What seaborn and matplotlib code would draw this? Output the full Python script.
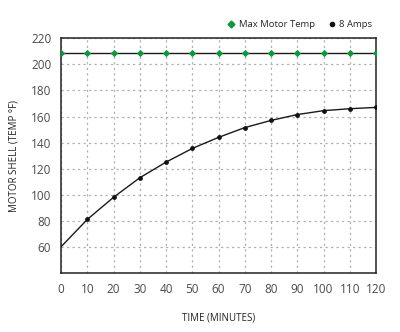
import matplotlib
matplotlib.use("Agg")
import matplotlib.pyplot as plt
from matplotlib.lines import Line2D
import seaborn as sns
import pandas as pd

# Motor shell temperature over time
minutes = [0, 10, 20, 30, 40, 50, 60, 70, 80, 90, 100, 110, 120]
amps8_temp = [60, 81, 98, 113, 125, 135.5, 144, 151.5, 157, 161.5, 164.5, 166, 167]
max_motor_temp = [209] * len(minutes)
x_ticks = [0, 10, 20, 30, 40, 50, 60, 70, 80, 90, 100, 110, 120]
y_ticks = [60, 80, 100, 120, 140, 160, 180, 200, 220]

sns.set_theme(style="white")
plt.rcParams["font.family"] = ["Open Sans", "DejaVu Sans"]

df8 = pd.DataFrame({"t": minutes, "temp": amps8_temp})
dfmax = pd.DataFrame({"t": minutes, "temp": max_motor_temp})

fig = plt.figure(figsize=(4.0, 3.32), dpi=100)
ax = fig.add_axes([0.1525, 0.178, 0.7875, 0.7065])

green = "#0a9a3c"
sns.lineplot(data=dfmax, x="t", y="temp", ax=ax, color="#1a1a1a", lw=1.0, zorder=3)
sns.scatterplot(data=dfmax, x="t", y="temp", ax=ax, color=green, marker="D",
                s=14, linewidth=0, zorder=4)
sns.lineplot(data=df8, x="t", y="temp", ax=ax, color="#1a1a1a", lw=1.0, zorder=3)
sns.scatterplot(data=df8.iloc[1:], x="t", y="temp", ax=ax, color="#111111",
                marker="o", s=12, linewidth=0, zorder=4)

ax.set_xlim(0, 120)
ax.set_ylim(40, 220)
ax.set_xticks(x_ticks)
ax.set_yticks(y_ticks)
ax.tick_params(axis="both", length=0, labelsize=8.5, colors="#4a4a4a", pad=7)
ax.grid(True, color="#b0b0b0", linestyle=(0, (1.8, 2.6)), lw=0.9)
for s in ax.spines.values():
    s.set_color("#222222")
    s.set_linewidth(1.1)

ax.set_xlabel("TIME (MINUTES)", fontsize=7, color="#222222", labelpad=12)
ax.set_ylabel("MOTOR SHELL (TEMP °F)", fontsize=7, color="#222222", labelpad=8)

handles = [
    Line2D([], [], marker="D", color=green, lw=0, markersize=3.5),
    Line2D([], [], marker="o", color="#111111", lw=0, markersize=3),
]
fig.legend(handles, ["Max Motor Temp", "8 Amps"], loc="upper right",
           bbox_to_anchor=(0.952, 0.965), ncol=2, frameon=False, fontsize=6.8,
           handlelength=0.8, handletextpad=0.4, columnspacing=1.4)

fig.savefig("out.png", dpi=100)
